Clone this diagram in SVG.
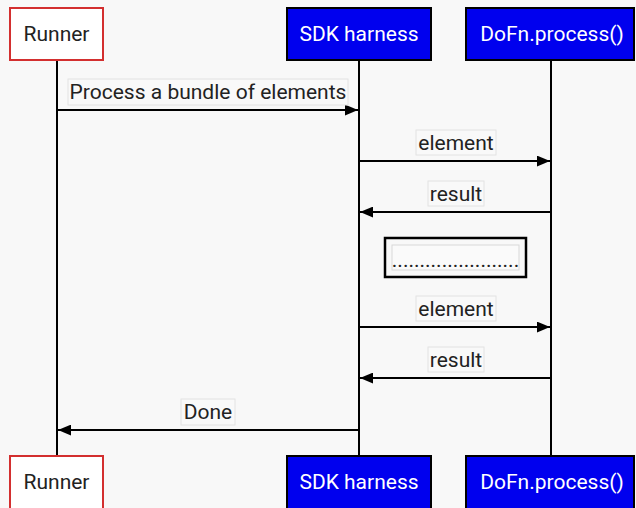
<svg xmlns="http://www.w3.org/2000/svg" width="636" height="508" viewBox="0 0 636 508">
<defs>
<marker id="ah" viewBox="0 0 12 10" refX="12" refY="5" markerWidth="13" markerHeight="11" markerUnits="userSpaceOnUse" orient="auto">
<path d="M0,0 L12,5 L0,10 z" fill="#000"/>
</marker>
<style>
text{font-family:Roboto,"Liberation Sans",sans-serif;font-size:21px;text-anchor:middle}
.life{stroke:#000;stroke-width:2}
.msg{stroke:#000;stroke-width:2;fill:none;marker-end:url(#ah)}
.lbl{fill:#f9f9f9;stroke:#e2e2e2;stroke-width:1}
.white{fill:#fff;stroke:#d32f2f;stroke-width:2}
.blue{fill:#0000ee;stroke:#000;stroke-width:2}
.wt{fill:#fff}
.bt{fill:#222}
</style>
</defs>
<rect width="636" height="508" fill="#f8f8f8"/>
<g id="lifelines">
<line class="life" x1="57" y1="60" x2="57" y2="456"/>
<line class="life" x1="359" y1="60" x2="359" y2="456"/>
<line class="life" x1="551" y1="60" x2="551" y2="456"/>
</g>
<g id="runner-top"><rect class="white" x="10" y="8" width="93" height="52"/><text class="bt" x="56.5" y="41">Runner</text></g>
<g id="sdk-top"><rect class="blue" x="287" y="8" width="144" height="52"/><text class="wt" x="359" y="41">SDK harness</text></g>
<g id="dofn-top"><rect class="blue" x="466" y="8" width="168" height="52"/><text class="wt" x="552" y="41">DoFn.process()</text></g>
<g id="runner-bottom"><rect class="white" x="10" y="456" width="93" height="54"/><text class="bt" x="56.5" y="489">Runner</text></g>
<g id="sdk-bottom"><rect class="blue" x="287" y="456" width="144" height="54"/><text class="wt" x="359" y="489">SDK harness</text></g>
<g id="dofn-bottom"><rect class="blue" x="466" y="456" width="168" height="54"/><text class="wt" x="552" y="489">DoFn.process()</text></g>
<g id="connectors">
<line class="msg" x1="57" y1="110" x2="358" y2="110"/>
<rect class="lbl" x="68" y="79" width="280" height="26"/>
<text class="bt" x="208" y="99">Process a bundle of elements</text>
<line class="msg" x1="359" y1="161" x2="550" y2="161"/>
<rect class="lbl" x="416" y="130" width="80" height="25"/>
<text class="bt" x="456" y="150">element</text>
<line class="msg" x1="551" y1="212" x2="360" y2="212"/>
<rect class="lbl" x="428" y="181" width="56" height="25"/>
<text class="bt" x="456" y="201">result</text>
<line class="msg" x1="359" y1="327" x2="550" y2="327"/>
<rect class="lbl" x="416" y="296" width="80" height="25"/>
<text class="bt" x="456" y="316">element</text>
<line class="msg" x1="551" y1="378" x2="360" y2="378"/>
<rect class="lbl" x="428" y="347" width="56" height="25"/>
<text class="bt" x="456" y="367">result</text>
<line class="msg" x1="359" y1="430" x2="58" y2="430"/>
<rect class="lbl" x="181" y="399" width="54" height="26"/>
<text class="bt" x="208" y="419">Done</text>
</g>
<g id="ellipsis">
<rect x="385" y="238" width="141" height="39" fill="#f8f8f8" stroke="#000" stroke-width="2.5"/>
<rect x="392" y="245" width="127" height="25" fill="#fafafa" stroke="#d8d8d8" stroke-width="1"/>
<text class="bt" x="455.5" y="267">.......................</text>
</g>
</svg>
